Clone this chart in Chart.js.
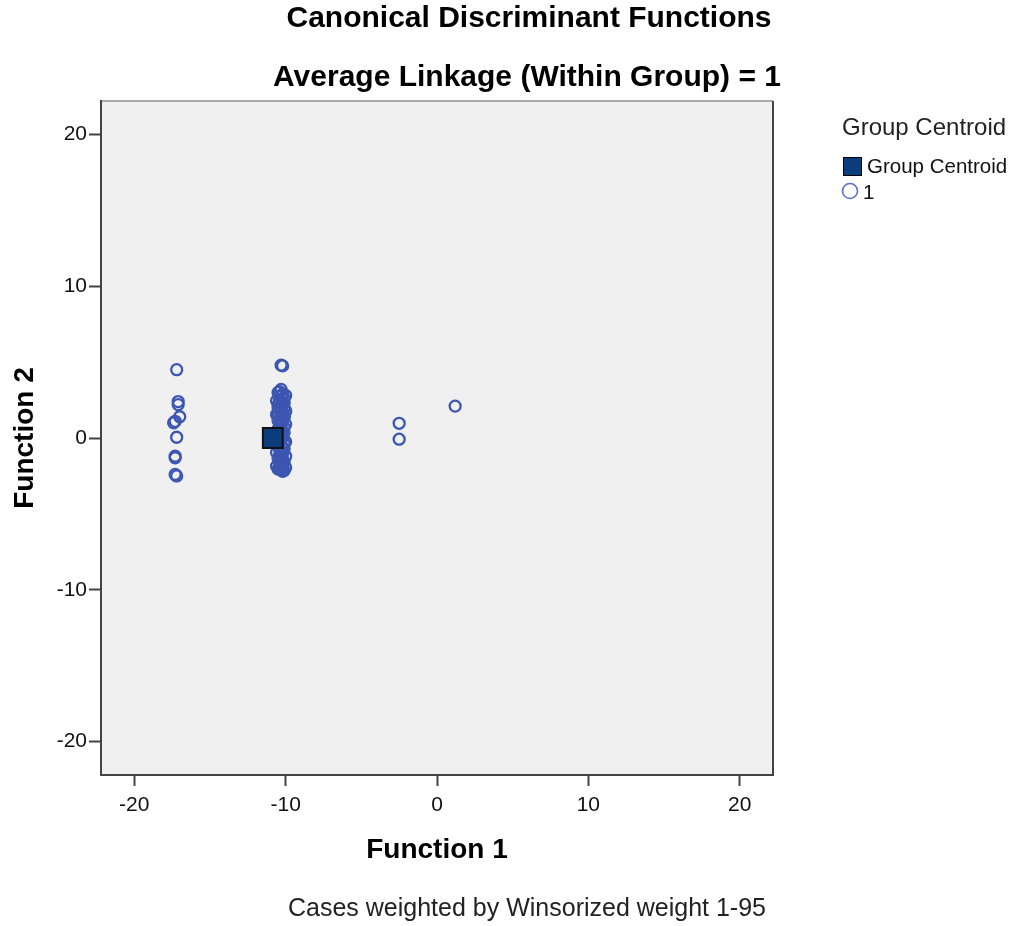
<!DOCTYPE html>
<html>
<head>
<meta charset="utf-8">
<script src="https://cdn.jsdelivr.net/npm/chart.js@4/dist/chart.umd.min.js"></script>
<style>
  body { margin: 0; background: #fff; }
  #wrap { width: 1016px; height: 926px; }
</style>
</head>
<body>
<div id="wrap"><canvas id="chart" width="1016" height="926"></canvas></div>
<script>
// Chart data
const titleText = 'Canonical Discriminant Functions';
const subtitleText = 'Average Linkage (Within Group) = 1';
const xAxisTitle = 'Function 1';
const yAxisTitle = 'Function 2';
const footnote = 'Cases weighted by Winsorized weight 1-95';
const legendTitle = 'Group Centroid';
const legendLabels = ['Group Centroid', '1'];
const tickValues = [-20, -10, 0, 10, 20];

// group 1 cases (function 1, function 2)
const caseX = [
  // left column
  -17.2, -17.1, -17.1, -17.0, -17.3, -17.4, -17.2, -17.3, -17.3, -17.3, -17.2,
  // main column
  -10.3, -10.2, -10.3, -10.4, -10.2, -10.3, -10.1, -10.4, -10.2, -10.5,
  -10.3, -10.1, -10.4, -10.2, -10.3, -10.5, -10.1, -10.3, -10.2, -10.4,
  -10.3, -10.1, -10.4, -10.2, -10.3, -10.5, -10.2, -10.3, -10.4, -10.1,
  -10.3, -10.2, -10.4, -10.3, -10.2, -10.4, -10.3, -10.2, -10.3, -10.4,
  -10.2, -10.3, -10.4, -10.3, -10.2,
  -10.5, -10.0, -10.6, -10.1, -10.5, -10.0, -10.6, -10.1, -10.5, -10.0,
  -10.5, -10.1, -10.6, -10.0, -10.5, -10.1, -10.6, -10.0, -10.5, -10.1,
  -10.6, -10.0, -10.5, -10.1, -10.5, -10.0,
  // right points
  -2.5, -2.5, 1.2
];
const caseY = [
  4.5, 2.4, 2.2, 1.4, 1.1, 1.0, 0.05, -1.2, -1.3, -2.4, -2.5,
  4.8, 4.75, 3.2, 3.05, 2.9, 2.75, 2.6, 2.5, 2.35, 2.2,
  2.1, 1.95, 1.85, 1.7, 1.6, 1.5, 1.35, 1.25, 1.1, 0.95,
  0.85, 0.7, 0.55, 0.45, 0.3, 0.15, 0.05, -0.1, -0.2, -0.35,
  -0.5, -0.6, -0.75, -0.9, -1.0, -1.15, -1.3, -1.4, -1.55, -1.65,
  -1.8, -1.9, -2.0, -2.1, -2.2,
  3.0, 2.8, 2.45, 2.3, 2.0, 1.8, 1.55, 1.4, 1.15, 0.9,
  0.6, 0.35, 0.1, -0.25, -0.45, -0.7, -0.95, -1.2, -1.35, -1.6,
  -1.85, -1.95, -2.05, -2.15, 1.65, 1.75,
  0.97, -0.08, 2.1
];
const centroidX = [-10.85];
const centroidY = [0.0];

const caseColor = '#3d56b0';
const centroidColor = '#0b3d7c';
const font = 'Arial, "Liberation Sans", sans-serif';

// build points for the scatter datasets
const casePoints = caseX.map((x, i) => ({ x: x, y: caseY[i] }));
const centroidPoints = centroidX.map((x, i) => ({ x: x, y: centroidY[i] }));

// draw titles, axis titles, footnote and legend
const textPlugin = {
  id: 'textPlugin',
  afterDraw(chart) {
    const ctx = chart.ctx;
    const area = chart.chartArea;
    ctx.save();
    ctx.fillStyle = '#000';
    ctx.textAlign = 'center';
    ctx.textBaseline = 'middle';
    ctx.font = 'bold 30px ' + font;
    ctx.fillText(titleText, 529, 19);
    ctx.fillText(subtitleText, 527, 78);

    ctx.font = 'bold 28px ' + font;
    ctx.fillText(xAxisTitle, (area.left + area.right) / 2, 850);
    ctx.save();
    ctx.translate(25, (area.top + area.bottom) / 2);
    ctx.rotate(-Math.PI / 2);
    ctx.fillText(yAxisTitle, 0, 0);
    ctx.restore();

    ctx.fillStyle = '#222';
    ctx.font = '25px ' + font;
    ctx.fillText(footnote, 527, 909);

    // legend
    ctx.textAlign = 'left';
    ctx.font = '24px ' + font;
    ctx.fillText(legendTitle, 842, 128);
    ctx.fillStyle = centroidColor;
    ctx.strokeStyle = '#000';
    ctx.lineWidth = 1;
    ctx.fillRect(843.5, 157.5, 18, 18);
    ctx.strokeRect(843.5, 157.5, 18, 18);
    ctx.beginPath();
    ctx.arc(850, 191, 7.5, 0, Math.PI * 2);
    ctx.strokeStyle = '#5a6fcf';
    ctx.lineWidth = 1.6;
    ctx.stroke();
    ctx.fillStyle = '#111';
    ctx.font = '20.5px ' + font;
    ctx.fillText(legendLabels[0], 867, 167);
    ctx.fillText(legendLabels[1], 863, 193);
    ctx.restore();
  }
};

// grey plot background
const plotBackground = {
  id: 'plotBackground',
  beforeDraw(chart) {
    const { ctx, chartArea: a } = chart;
    ctx.save();
    ctx.fillStyle = '#f0f0f0';
    ctx.fillRect(a.left, a.top, a.right - a.left, a.bottom - a.top);
    ctx.strokeStyle = '#aaa';
    ctx.lineWidth = 2;
    ctx.beginPath();
    ctx.moveTo(a.left, a.top);
    ctx.lineTo(a.right, a.top);
    ctx.stroke();
    ctx.strokeStyle = '#444';
    ctx.beginPath();
    ctx.moveTo(a.right, a.top);
    ctx.lineTo(a.right, a.bottom);
    ctx.stroke();
    ctx.restore();
  }
};

const ctx = document.getElementById('chart').getContext('2d');
new Chart(ctx, {
  type: 'scatter',
  data: {
    datasets: [
      {
        label: legendLabels[0],
        data: centroidPoints,
        pointStyle: 'rect',
        pointRadius: 14,
        backgroundColor: centroidColor,
        borderColor: '#111',
        borderWidth: 2
      },
      {
        label: legendLabels[1],
        data: casePoints,
        pointStyle: 'circle',
        pointRadius: 5.5,
        backgroundColor: 'rgba(0,0,0,0)',
        borderColor: caseColor,
        borderWidth: 2.3
      }
    ]
  },
  options: {
    responsive: false,
    animation: false,
    layout: {
      padding: { left: 41, right: 243, top: 101, bottom: 101 }
    },
    plugins: {
      legend: { display: false },
      tooltip: { enabled: false }
    },
    scales: {
      x: {
        type: 'linear',
        min: -22.2,
        max: 22.2,
        afterBuildTicks: (scale) => { scale.ticks = tickValues.map(v => ({ value: v })); },
        afterFit: (scale) => { scale.height = 50; },
        grid: { drawOnChartArea: false, drawTicks: true, tickLength: 11, tickColor: '#444', tickWidth: 2 },
        border: { display: true, color: '#444', width: 2 },
        ticks: { color: '#111', font: { family: font, size: 21 }, padding: 7 }
      },
      y: {
        type: 'linear',
        min: -22.2,
        max: 22.2,
        afterBuildTicks: (scale) => { scale.ticks = tickValues.map(v => ({ value: v })); },
        afterFit: (scale) => { scale.width = 60; },
        grid: { drawOnChartArea: false, drawTicks: true, tickLength: 12, tickColor: '#444', tickWidth: 2 },
        border: { display: true, color: '#444', width: 2 },
        ticks: { color: '#111', font: { family: font, size: 21 }, padding: 2 }
      }
    }
  },
  plugins: [plotBackground, textPlugin]
});
</script>
</body>
</html>
